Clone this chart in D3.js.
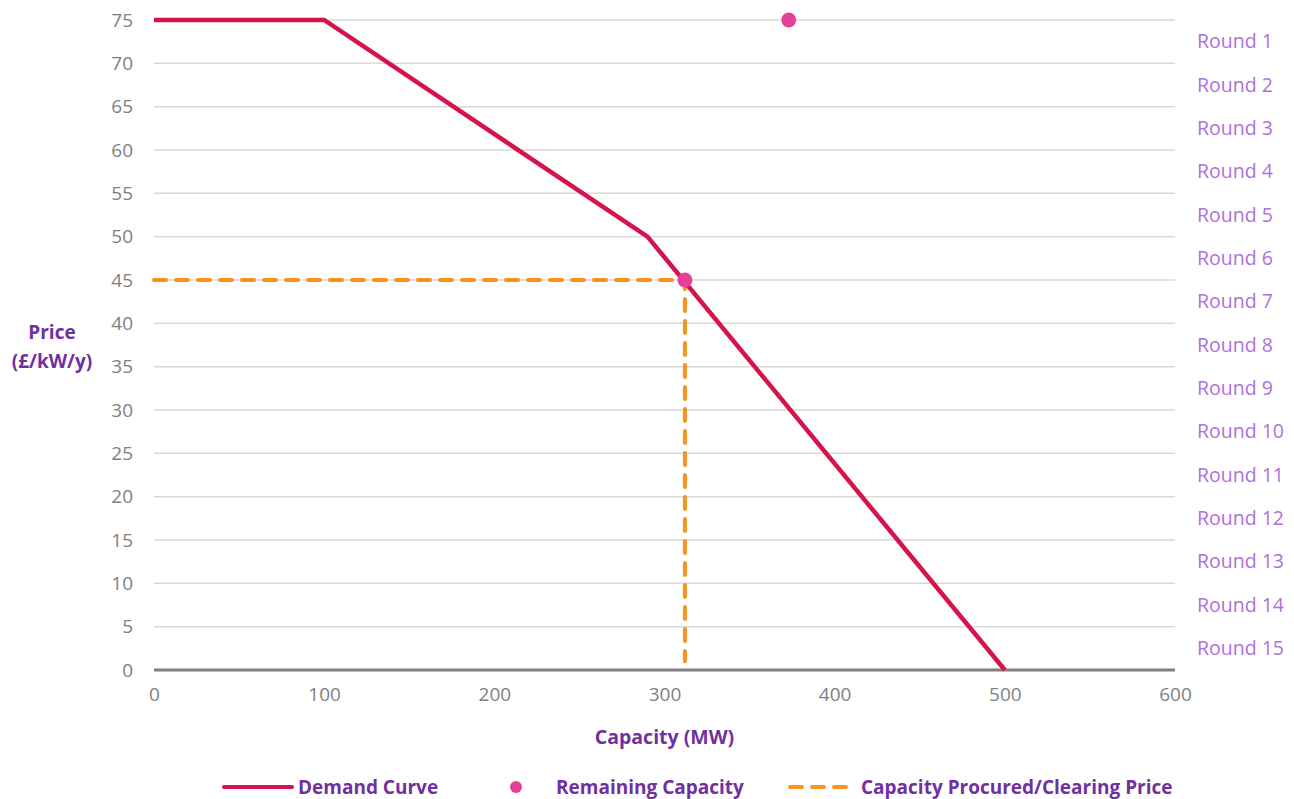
<!DOCTYPE html>
<html>
<head>
<meta charset="utf-8">
<script src="https://cdn.jsdelivr.net/npm/d3@7"></script>
<style>
    body { margin: 0; background: #fff; }
    text { font-family: "Open Sans", Lato, sans-serif; }
</style>
</head>
<body>
<svg id="chart"></svg>
<script>
// chart data
var demandX = [0, 100, 290, 500];
var demandY = [75, 75, 50, 0];
var remainingX = [373, 312];
var remainingY = [75, 45];
var clearingX = [0, 312, 312];
var clearingY = [45, 45, 1];
var roundLabels = ["Round 1", "Round 2", "Round 3", "Round 4", "Round 5", "Round 6", "Round 7", "Round 8",
    "Round 9", "Round 10", "Round 11", "Round 12", "Round 13", "Round 14", "Round 15"];
var xTicks = [0, 100, 200, 300, 400, 500, 600];
var yTicks = d3.range(0, 80, 5);

var svgWidth = 1294;
var svgHeight = 799;
var margin = { top: 20, right: 119, bottom: 129, left: 154 };
var chartWidth = svgWidth - margin.left - margin.right;
var chartHeight = svgHeight - margin.top - margin.bottom;

var svg = d3.select("#chart")
    .attr("width", svgWidth)
    .attr("height", svgHeight);

var chart = svg.append("g")
    .attr("transform", "translate(" + margin.left + "," + margin.top + ")");

var xScale = d3.scaleLinear().domain([0, 600]).range([0, chartWidth]);
var yScale = d3.scaleLinear().domain([0, 75]).range([chartHeight, 0]);

// gridlines
chart.selectAll(".grid")
    .data(yTicks.filter(function (d) { return d > 0; }))
    .enter()
    .append("line")
    .attr("x1", 0)
    .attr("x2", chartWidth)
    .attr("y1", function (d) { return yScale(d); })
    .attr("y2", function (d) { return yScale(d); })
    .style("stroke", "#d9d9d9")
    .style("stroke-width", 1.5);

// y axis labels
var yAxis = chart.append("g")
    .call(d3.axisLeft(yScale).tickValues(yTicks).tickSize(0).tickPadding(21));
yAxis.select(".domain").remove();
yAxis.selectAll("text")
    .style("font-size", "19px")
    .style("fill", "#7f7f7f");

// x axis
var xAxis = chart.append("g")
    .attr("transform", "translate(0," + chartHeight + ")")
    .call(d3.axisBottom(xScale).tickValues(xTicks).tickSize(0).tickPadding(18));
xAxis.select(".domain").remove();
xAxis.selectAll("text")
    .style("font-size", "19px")
    .style("fill", "#7f7f7f");

chart.append("line")
    .attr("x1", 0)
    .attr("x2", chartWidth)
    .attr("y1", chartHeight)
    .attr("y2", chartHeight)
    .style("stroke", "#808080")
    .style("stroke-width", 3);

// round labels on the right
chart.selectAll(".round-label")
    .data(roundLabels)
    .enter()
    .append("text")
    .attr("class", "round-label")
    .text(function (d) { return d; })
    .attr("x", chartWidth + 22)
    .attr("y", function (d, i) { return yScale(75 - 5 * i - 2.5); })
    .attr("dy", "0.35em")
    .style("font-size", "19.5px")
    .style("fill", "#b070dc");

// clearing price dashed line
var clearingData = clearingX.map(function (d, i) { return [d, clearingY[i]]; });
chart.append("path")
    .datum(clearingData)
    .attr("d", d3.line().x(function (d) { return xScale(d[0]); }).y(function (d) { return yScale(d[1]); }))
    .style("fill", "none")
    .style("stroke", "#f7931e")
    .style("stroke-width", 4)
    .style("stroke-dasharray", "12,10")
    .style("stroke-linecap", "round");

// demand curve
var demandData = demandX.map(function (d, i) { return [d, demandY[i]]; });
chart.append("path")
    .datum(demandData)
    .attr("d", d3.line().x(function (d) { return xScale(d[0]); }).y(function (d) { return yScale(d[1]); }))
    .style("fill", "none")
    .style("stroke", "#d4144a")
    .style("stroke-width", 4.5);

// remaining capacity points
chart.selectAll(".remaining")
    .data(remainingX)
    .enter()
    .append("circle")
    .attr("cx", function (d) { return xScale(d); })
    .attr("cy", function (d, i) { return yScale(remainingY[i]); })
    .attr("r", 7.5)
    .style("fill", "#e8409a");

// axis titles
svg.append("text")
    .attr("x", 52)
    .attr("y", 339)
    .attr("text-anchor", "middle")
    .style("font-size", "19px")
    .style("font-weight", "bold")
    .style("fill", "#7030a0")
    .text("Price");
svg.append("text")
    .attr("x", 52)
    .attr("y", 368)
    .attr("text-anchor", "middle")
    .style("font-size", "19px")
    .style("font-weight", "bold")
    .style("fill", "#7030a0")
    .text("(£/kW/y)");
svg.append("text")
    .attr("x", margin.left + xScale(300))
    .attr("y", 744)
    .attr("text-anchor", "middle")
    .style("font-size", "19.5px")
    .style("font-weight", "bold")
    .style("fill", "#7030a0")
    .text("Capacity (MW)");

// legend
var legend = svg.append("g").attr("transform", "translate(0,787)");
legend.append("line")
    .attr("x1", 224).attr("x2", 292).attr("y1", 0).attr("y2", 0)
    .style("stroke", "#d4144a").style("stroke-width", 4).style("stroke-linecap", "round");
legend.append("text").attr("x", 298).attr("y", 0).attr("dy", "0.35em")
    .style("font-size", "19px").style("font-weight", "bold").style("fill", "#7030a0")
    .text("Demand Curve");
legend.append("circle").attr("cx", 516).attr("cy", 0).attr("r", 6).style("fill", "#e8409a");
legend.append("text").attr("x", 556).attr("y", 0).attr("dy", "0.35em")
    .style("font-size", "19px").style("font-weight", "bold").style("fill", "#7030a0")
    .text("Remaining Capacity");
legend.append("line")
    .attr("x1", 790).attr("x2", 850).attr("y1", 0).attr("y2", 0)
    .style("stroke", "#f7931e").style("stroke-width", 4)
    .style("stroke-dasharray", "12,10").style("stroke-linecap", "round");
legend.append("text").attr("x", 861).attr("y", 0).attr("dy", "0.35em")
    .style("font-size", "19px").style("font-weight", "bold").style("fill", "#7030a0")
    .text("Capacity Procured/Clearing Price");
</script>
</body>
</html>
